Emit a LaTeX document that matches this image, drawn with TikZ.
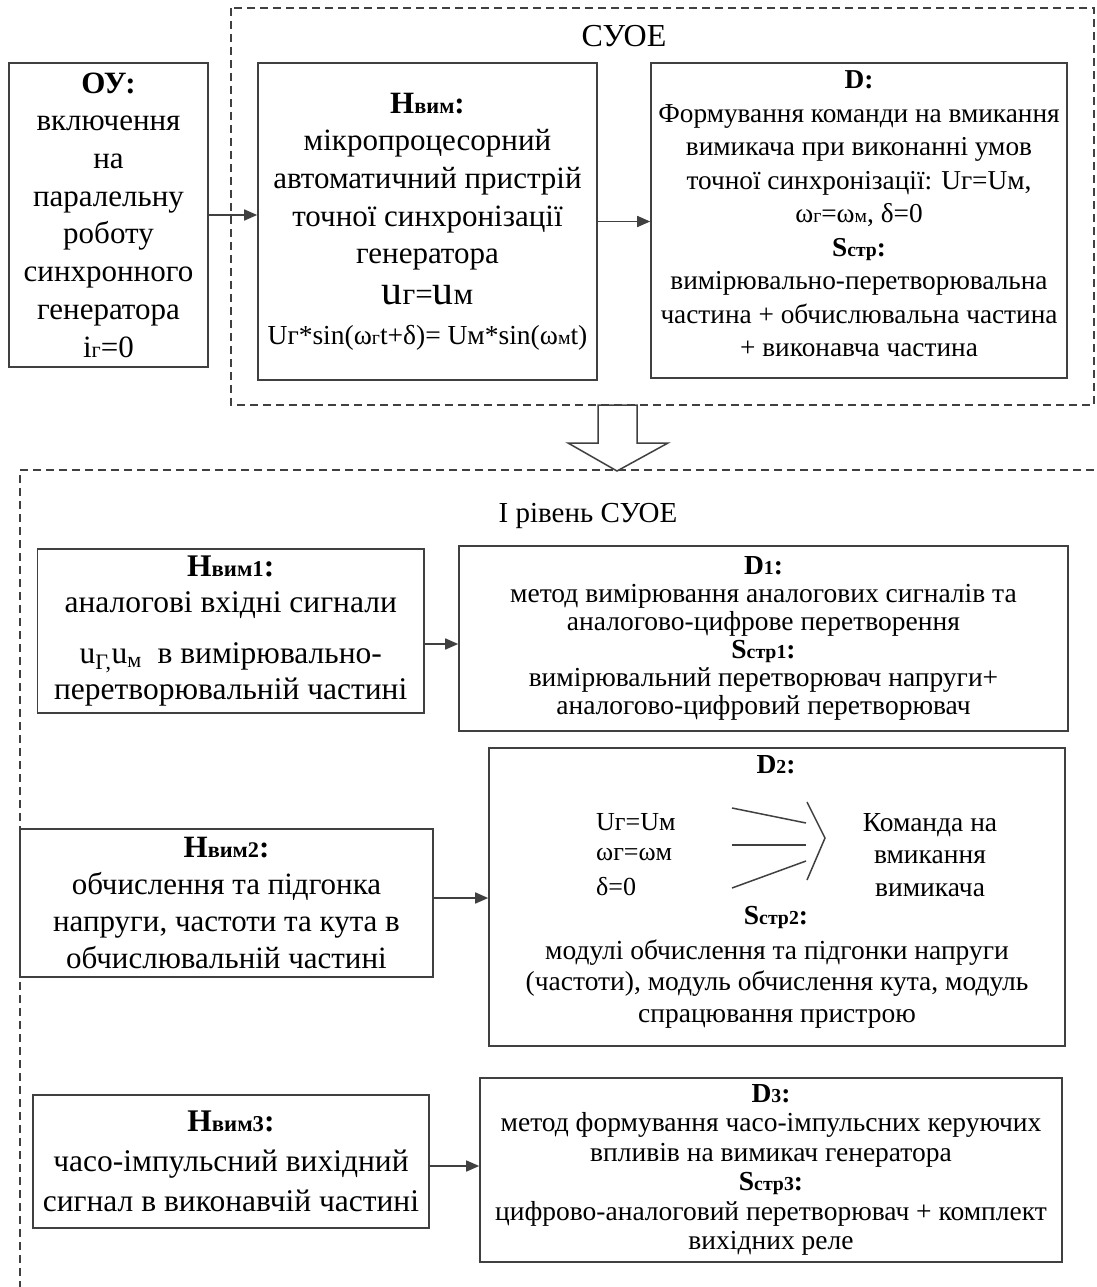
\documentclass[tikz,border=0pt]{standalone}
\usepackage{fontspec}
\setmainfont{Liberation Serif}
\usepackage{graphicx}
\usetikzlibrary{arrows.meta}
\definecolor{ink}{HTML}{404040}
% small index letters sitting on the baseline
\newcommand\sm[1]{\scalebox{0.72}{#1}}
\newcommand\fs[2]{\fontsize{#1}{#2}\selectfont}
\tikzset{
  box/.style={draw=ink, line width=1.6pt, rectangle, inner sep=0pt, align=center, text=black},
  frame/.style={draw=ink, line width=1.3pt, dash pattern=on 8pt off 5pt},
  link/.style={draw=ink, line width=1.6pt, -{Triangle[length=13pt,width=11pt]}},
  thin/.style={draw=ink, line width=1.5pt},
}
\begin{document}
\begin{tikzpicture}[x=1pt,y=-1pt]
\useasboundingbox (0,0) rectangle (1096,1287);

% ---------- upper level ----------
\draw[frame] (231,8) rectangle (1094,405);
\node (suoe) at (624,36) {\fs{32}{36}СУОЕ};

\node[box, minimum width=199pt, minimum height=304pt, font={\fs{31}{37.7}}] (ou) at (108.5,215)
  {\textbf{ОУ:}\\включення\\на\\паралельну\\роботу\\синхронного\\генератора\\i\sm{г}=0};

\node[box, minimum width=339pt, minimum height=317pt, font={\fs{31}{37.7}}] (hv) at (427.5,221.5)
  {\textbf{Н\sm{вим}:}\\мікропроцесорний\\автоматичний пристрій\\точної синхронізації\\генератора\\[3pt]
   \scalebox{1.35}{u}г=\scalebox{1.35}{u}м\\[2pt]
   {\fs{27.5}{30}Uг*sin(ω\sm{г}t+δ)= Uм*sin(ω\sm{м}t)}};

\node[box, minimum width=416pt, minimum height=315pt, font={\fs{27.3}{33.5}}] (d) at (859,220.5)
  {\textbf{D:}\\Формування команди на вмикання\\вимикача при виконанні умов\\точної синхронізації: Uг=Uм,\\
   ω\sm{г}=ω\sm{м}, δ=0\\\textbf{S\sm{стр}:}\\вимірювально-перетворювальна\\частина + обчислювальна частина\\+ виконавча частина\\[-20pt]\mbox{}};

\draw[link] (ou.east) -- (ou.east -| hv.west);
\draw[link] (hv.east) -- (hv.east -| d.west);

% ---------- first level ----------
\draw[frame] (1094,470) -- (20,470) -- (20,1292);
\node (lvl) at (588,516) {\fs{29}{34}І рівень СУОЕ};

% transition arrow between the levels
\draw[draw=ink, line width=1.5pt, fill=white]
  (598,405) -- (598,443) -- (568,443) -- (617,471) -- (668,443) -- (637,443) -- (637,405) -- cycle;

\node[box, minimum width=386.5pt, minimum height=164pt, font={\fs{31.5}{36}}] (h1) at (230.75,631)
  {\textbf{Н\sm{вим1}:}\\аналогові вхідні сигнали\\[15pt]
   u\textsubscript{Г,}u\textsubscript{м}\ \ в вимірювально-\\перетворювальній частині};

\node[box, minimum width=609pt, minimum height=185pt, font={\fs{27.5}{28}}] (d1) at (763.5,638.5)
  {\textbf{D\sm{1}:}\\метод вимірювання аналогових сигналів та\\аналогово-цифрове перетворення\\
   \textbf{S\sm{стр1}:}\\вимірювальний перетворювач напруги+\\аналогово-цифровий перетворювач};

\draw[link] ([yshift=-13pt]h1.east) -- ([yshift=-13pt]h1.east -| d1.west);

\node[box, minimum width=413pt, minimum height=148pt, font={\fs{31}{37}}] (h2) at (226.5,903)
  {\textbf{Н\sm{вим2}:}\\обчислення та підгонка\\напруги, частоти та кута в\\обчислювальній частині};

\node[box, minimum width=576pt, minimum height=298pt] (d2) at (777,897) {};
\node (d2t) at (776,765) {\fs{27.5}{32}\textbf{D\sm{2}:}};
\node[anchor=west, inner sep=0pt] (c1) at (596,822) {\fs{26}{32}Uг=Uм};
\node[anchor=west, inner sep=0pt] (c2) at (596,855) {\fs{26}{32}ωг=ωм};
\node[anchor=west, inner sep=0pt] (c3) at (596,887) {\fs{26}{32}δ=0};
\node[align=center, inner sep=0pt, font={\fs{27.5}{32.5}}] (cmd) at (930,855) {Команда на\\вмикання\\вимикача};
\node (s2t) at (776,917) {\fs{27.5}{32}\textbf{S\sm{стр2}:}};
\node[align=center, inner sep=0pt, font={\fs{27.5}{31.5}}] (s2) at (777,984)
  {модулі обчислення та підгонки напруги\\(частоти), модуль обчислення кута, модуль\\спрацювання пристрою};
\draw[thin] (732,808) -- (806,823);
\draw[thin] (732,845) -- (806,845);
\draw[thin] (732,888) -- (806,861);
\draw[thin] (807,802) -- (825,838) -- (807,880);

\draw[link] ([yshift=5pt]h2.east) -- ([yshift=5pt]h2.east -| d2.west);

\node[box, minimum width=396pt, minimum height=133pt, font={\fs{31.5}{40}}] (h3) at (231,1161.5)
  {\textbf{Н\sm{вим3}:}\\часо-імпульсний вихідний\\сигнал в виконавчій частині};

\node[box, minimum width=582pt, minimum height=184pt, font={\fs{27.5}{29.5}}] (d3) at (771,1170)
  {\textbf{D\sm{3}:}\\метод формування часо-імпульсних керуючих\\впливів на вимикач генератора\\
   \textbf{S\sm{стр3}:}\\цифрово-аналоговий перетворювач + комплект\\вихідних реле};

\draw[link] ([yshift=-4.5pt]h3.east) -- ([yshift=-4.5pt]h3.east -| d3.west);
\end{tikzpicture}
\end{document}
